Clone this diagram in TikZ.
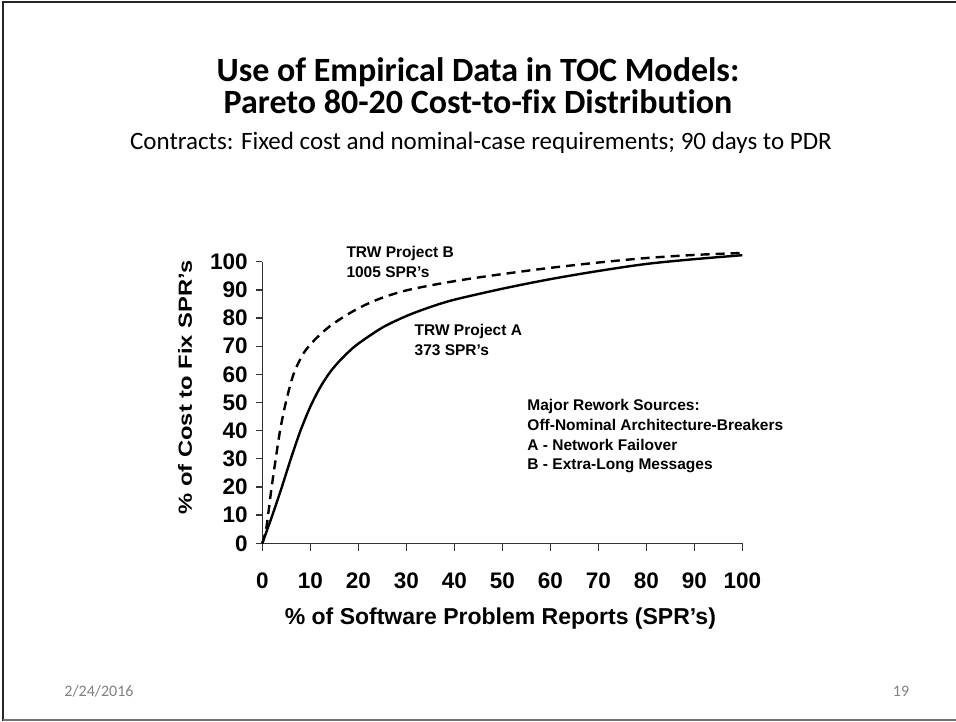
\documentclass[tikz,border=0pt]{standalone}
\usepackage{fontspec}
\setmainfont{Carlito}[Ligatures=NoCommon]
\newfontfamily\chartfont{Liberation Sans}
\usetikzlibrary{calc}

\begin{document}
\begin{tikzpicture}[x=1pt,y=1pt,
  frameline/.style={line width=2.5pt,black!85},
  axisline/.style={line width=1.3pt,black!80},
  curveline/.style={line width=2.4pt,black,line cap=butt,line join=round},
  ticklabel/.style={font=\chartfont\bfseries\fontsize{22.5}{24}\selectfont,inner sep=0pt},
  notelabel/.style={font=\chartfont\bfseries\fontsize{15.5}{19.8}\selectfont,inner sep=0pt,anchor=north west,align=left},
  titlelabel/.style={font=\bfseries\fontsize{34}{36}\selectfont,inner sep=0pt,anchor=base},
  footlabel/.style={font=\fontsize{16}{18}\selectfont,text=black!50,inner sep=0pt}
]
% page area (y measured upward from the bottom edge)
\useasboundingbox (0,0) rectangle (956,721);

% slide frame: left, top and bottom edges
\draw[frameline] (3,0) -- (3,719) -- (956,719);
\draw[line width=2pt,black!55] (3,1.5) -- (956,1.5);

% title block
\node[titlelabel] (title1) at (478,639) {Use of Empirical Data in TOC Models:};
\node[titlelabel] (title2) at (478,607) {Pareto 80-20 Cost-to-fix Distribution};
\node[font=\fontsize{25}{28}\selectfont,inner sep=0pt,anchor=base] (subtitle) at (481,571)
  {Contracts: Fixed cost and nominal-case requirements; 90 days to PDR};

% chart in data units: x 0..100, y 0..100
\begin{scope}[shift={(262.3pt,177.7pt)},x=4.8pt,y=2.816pt]
  \coordinate (O) at (0,0);
  \coordinate (ytop) at (0,100);
  \coordinate (xend) at (100,0);
  \draw[axisline] (ytop) -- (O) -- (xend);
  \draw[axisline] (-1.4,0) -- (O);
  \foreach \v in {0,10,...,100} {
    \draw[axisline] (0,\v) -- (-1.4,\v);
    \node[ticklabel,anchor=east] (yl\v) at (-3.0,\v) {\v};
    \draw[axisline] (\v,0) -- (\v,-2.6);
    \node[ticklabel] (xl\v) at (\v,-13.2) {\v};
  }
  \node[font=\chartfont\bfseries\fontsize{23}{26}\selectfont,inner sep=0pt] (xtitle) at (49.6,-26.7)
    {\% of Software Problem Reports (SPR’s)};
  \node[font=\chartfont\bfseries\fontsize{19}{21}\selectfont,inner sep=0pt,rotate=90] (ytitle) at (-16.1,55.3)
    {\scalebox{1.25}[1]{\% of Cost to Fix SPR’s}};

  % Project A: solid
  \draw[curveline] plot[smooth,tension=0.5] coordinates {
    (0,0) (2,9.5) (4,19.6) (6,30.3) (8,40.2) (10,48.5) (12,55.2) (14,60.5)
    (16,64.6) (18,68) (20,70.9) (25,76.6) (30,80.7) (35,83.9) (40,86.5)
    (50,90.4) (60,93.8) (70,96.7) (80,99.2) (90,100.9) (100,102.3)};
  % Project B: dashed
  \draw[curveline,dash pattern=on 9pt off 6pt] plot[smooth,tension=0.5] coordinates {
    (0,0) (0.8,5) (1.35,12) (1.95,20) (2.8,30) (3.7,40) (4.9,50) (6.5,60)
    (8.6,67.5) (11,72.4) (14,77) (17.5,81) (21,84.3) (25,87.2) (30,89.8)
    (37,92.2) (45,94.4) (58,97.4) (70,99.7) (80,101.3) (90,102.4) (100,103.1)};

  \node[notelabel] (labB) at (17.5,105.4) {TRW Project B\\1005 SPR’s};
  \node[notelabel] (labA) at (31.7,77.8) {TRW Project A\\373 SPR’s};
  \node[notelabel] (labR) at (55.2,51.2) {Major Rework Sources:\\Off-Nominal Architecture-Breakers\\A - Network Failover\\B - Extra-Long Messages};
\end{scope}

% footer
\node[footlabel] (date) at (99,30) {2/24/2016};
\node[footlabel] (page) at (901,30) {19};
\end{tikzpicture}
\end{document}
